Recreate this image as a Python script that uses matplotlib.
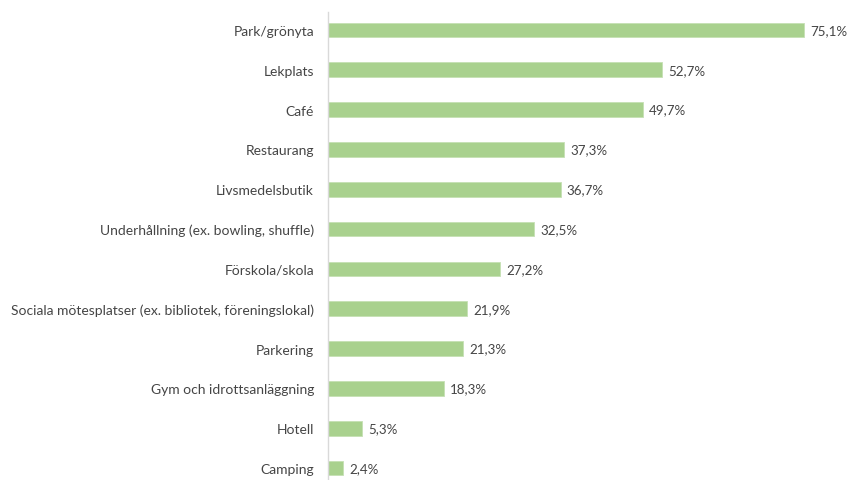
import matplotlib
matplotlib.use('Agg')
import matplotlib.pyplot as plt

categories = [
    'Park/grönyta', 'Lekplats', 'Café', 'Restaurang', 'Livsmedelsbutik',
    'Underhållning (ex. bowling, shuffle)', 'Förskola/skola',
    'Sociala mötesplatser (ex. bibliotek, föreningslokal)', 'Parkering',
    'Gym och idrottsanläggning', 'Hotell', 'Camping',
]
shares = [75.1, 52.7, 49.7, 37.3, 36.7, 32.5, 27.2, 21.9, 21.3, 18.3, 5.3, 2.4]

plt.rcParams['font.family'] = ['Lato', 'DejaVu Sans']
text_color = '#454545'

fig = plt.figure(figsize=(8.5, 4.81), dpi=100)
ax = fig.add_axes([328 / 850, -8 / 481, 507 / 850, 478 / 481])

y = list(range(len(categories)))
ax.barh(y, shares, height=0.37, color='#a9d18e', edgecolor='#c5e0b4', linewidth=0.6)

# percentage labels, Swedish decimal comma
for yi, v in zip(y, shares):
    ax.annotate(f'{v:.1f}%'.replace('.', ','), (v, yi), xytext=(4.5, 0),
                textcoords='offset points', va='center', ha='left',
                fontsize=9.6, color=text_color)

ax.set_xlim(0, 80)
ax.set_ylim(len(categories) - 0.5, -0.5)
ax.set_yticks(y)
ax.set_yticklabels(categories, fontsize=10, color=text_color)
ax.tick_params(axis='y', length=0, pad=10)
ax.set_xticks([])

for side in ['top', 'right', 'bottom']:
    ax.spines[side].set_visible(False)
ax.spines['left'].set_color('#d9d9d9')
ax.spines['left'].set_linewidth(1.0)
ax.spines['left'].set_bounds(len(categories) - 0.5, -0.45)

fig.savefig('out.png', dpi=100)
